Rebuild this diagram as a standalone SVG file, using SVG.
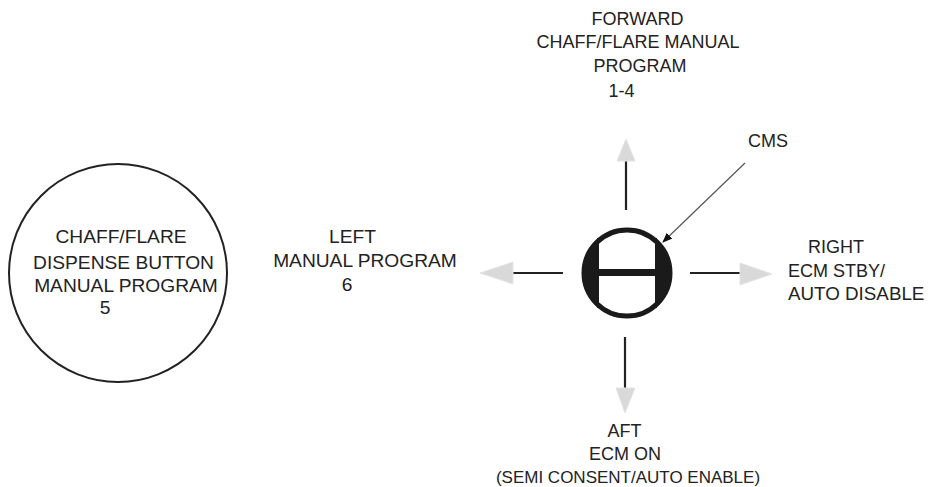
<svg xmlns="http://www.w3.org/2000/svg" width="931" height="487" viewBox="0 0 931 487">
<defs>
<style>
text{font-family:"Liberation Sans",Arial,sans-serif;font-size:18px;fill:#222}
.m{text-anchor:middle}
.b{font-size:19.2px}
.ln{stroke:#222;stroke-width:2.2;fill:none}
.ah{fill:#d9d9d9;stroke:#e4e4e4;stroke-width:1}
</style>
<marker id="blk" markerWidth="10" markerHeight="8" refX="9" refY="4" orient="auto" markerUnits="userSpaceOnUse">
<path d="M0,0 L10,4 L0,8 Z" fill="#111"/>
</marker>
</defs>
<rect width="931" height="487" fill="#fff"/>
<g id="dispense-button">
<circle cx="118" cy="273" r="109" fill="none" stroke="#222" stroke-width="2"/>
<text class="m b" x="121" y="243">CHAFF/FLARE</text>
<text class="m b" x="123.5" y="269">DISPENSE BUTTON</text>
<text class="m b" x="126" y="292">MANUAL PROGRAM</text>
<text class="m b" x="105" y="314">5</text>
</g>
<g id="cms">
<path d="M598,238.6 A45,45 0 0 0 598,307.4 Z" fill="#1a1a1a"/>
<path d="M656,238.6 A45,45 0 0 1 656,307.4 Z" fill="#1a1a1a"/>
<rect x="597" y="269" width="60" height="7" fill="#1a1a1a"/>
<line x1="598" y1="238" x2="598" y2="308" stroke="#1a1a1a" stroke-width="2"/>
<line x1="656" y1="238" x2="656" y2="308" stroke="#1a1a1a" stroke-width="2"/>
<circle cx="627" cy="273" r="43" fill="none" stroke="#1a1a1a" stroke-width="5"/>
</g>
<g id="cms-label">
<text x="748" y="147">CMS</text>
</g>
<g id="forward">
<text class="m" x="637.5" y="25">FORWARD</text>
<text class="m" x="638" y="48">CHAFF/FLARE MANUAL</text>
<text class="m" x="640" y="72">PROGRAM</text>
<text class="m" x="621.5" y="97">1-4</text>
</g>
<g id="left">
<text class="m b" x="352.5" y="243">LEFT</text>
<text class="m b" x="365" y="267">MANUAL PROGRAM</text>
<text class="m b" x="347" y="291">6</text>
</g>
<g id="right">
<text x="808" y="253">RIGHT</text>
<text x="788" y="277">ECM STBY/</text>
<text x="788" y="300" style="font-size:18.8px">AUTO DISABLE</text>
</g>
<g id="aft">
<text class="m" x="624.5" y="437">AFT</text>
<text class="m" x="625" y="460">ECM ON</text>
<text class="m" x="628" y="483" style="font-size:17px">(SEMI CONSENT/AUTO ENABLE)</text>
</g>
<g id="connectors">
<line class="ln" x1="626" y1="210" x2="626" y2="160"/>
<path class="ah" d="M626,139 L635,161 L617,161 Z"/>
<line class="ln" x1="625" y1="337" x2="625" y2="389"/>
<path class="ah" d="M625,413 L635,388 L616,388 Z"/>
<line class="ln" x1="563" y1="273" x2="512" y2="273"/>
<path class="ah" d="M480,273 L513,262 L513,284 Z"/>
<line class="ln" x1="690" y1="273" x2="741" y2="273"/>
<path class="ah" d="M772,274 L740,263 L740,285 Z"/>
<line x1="745" y1="163" x2="663" y2="242" stroke="#555" stroke-width="1.2" marker-end="url(#blk)"/>
</g>
</svg>
